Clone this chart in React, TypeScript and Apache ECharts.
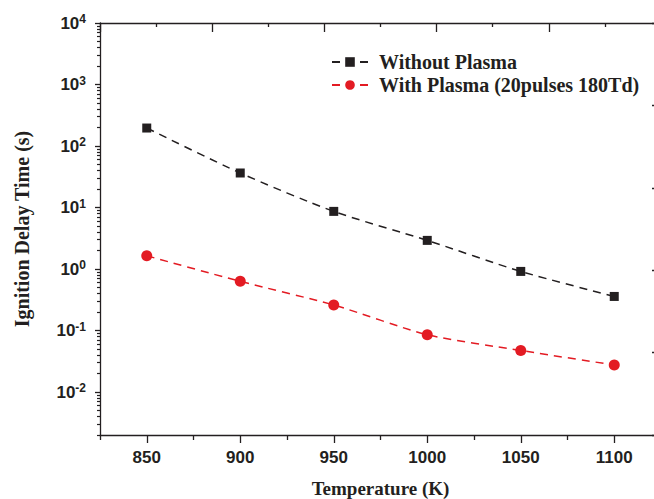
import React, { useEffect, useRef } from 'react';
import * as echarts from 'echarts';

const temperatures = [850, 900, 950, 1000, 1050, 1100];
const withoutPlasma = [196, 36.4, 8.65, 2.92, 0.914, 0.358];
const withPlasma = [1.64, 0.63, 0.26, 0.0855, 0.0474, 0.0275];
const seriesNames = ['Without Plasma', 'With Plasma (20pulses 180Td)'];
const xTickLabels = [850, 900, 950, 1000, 1050, 1100];
const xMinorTicks = [825, 875, 925, 975, 1025, 1075, 1125];
const yMajorTicks = [0.01, 0.1, 1, 10, 100, 1000, 10000];
const yMinorMantissas = [2, 3, 4, 5, 6, 7, 8, 9];
const yMinorDecades = [0.001, 0.01, 0.1, 1, 10, 100, 1000];

const INK = '#231f20';
const RED = '#e31b23';

export default function App() {
  const ref = useRef<HTMLDivElement>(null);
  useEffect(() => {
    if (!ref.current) return;
    const chart = echarts.init(ref.current, undefined, { renderer: 'svg' });
    const yMinorTicks: number[] = [];
    yMinorDecades.forEach((d) =>
      yMinorMantissas.forEach((m) => {
        const v = parseFloat((m * d).toPrecision(3));
        if (v >= 0.002 && v <= 10000) yMinorTicks.push(v);
      })
    );
    const axisLine = { show: true, lineStyle: { color: INK, width: 1.3 } };
    const hiddenLine = { show: false };
    const option: any = {
      animation: false,
      backgroundColor: '#ffffff',
      grid: { left: 100, top: 23, right: -7, bottom: 64, containLabel: false, outerBoundsMode: 'none' },
      legend: {
        orient: 'vertical',
        left: 326,
        top: 47,
        itemWidth: 36,
        itemHeight: 12,
        itemGap: 3,
        data: seriesNames,
        textStyle: {
          fontFamily: 'Liberation Serif',
          fontWeight: 'bold',
          fontSize: 20,
          color: INK,
          padding: [0, 0, 0, 6],
        },
      },
      xAxis: [
        {
          type: 'value',
          position: 'bottom',
          min: 825,
          max: 1125,
          axisLine,
          splitLine: { show: false },
          axisTick: { show: true, customValues: xTickLabels, length: 8, lineStyle: { color: INK, width: 1.3 } },
          axisLabel: {
            customValues: xTickLabels,
            margin: 14,
            formatter: (v: number) => String(v),
            fontFamily: 'Liberation Sans',
            fontWeight: 'bold',
            fontSize: 17,
            color: INK,
          },
          name: 'Temperature (K)',
          nameLocation: 'middle',
          nameGap: 44,
          nameTextStyle: { fontFamily: 'Liberation Serif', fontWeight: 'bold', fontSize: 19, color: INK },
        },
        {
          type: 'value',
          position: 'bottom',
          min: 825,
          max: 1125,
          axisLine: hiddenLine,
          splitLine: { show: false },
          axisTick: { show: true, customValues: xMinorTicks, length: 5, lineStyle: { color: INK, width: 1.3 } },
          axisLabel: { show: false },
        },
        {
          type: 'value',
          position: 'top',
          min: 0,
          max: 10,
          interval: 2,
          axisLine,
          splitLine: { show: false },
          axisTick: { show: true, inside: true, length: 9, lineStyle: { color: INK, width: 1.3 } },
          minorTick: { show: true, splitNumber: 2, length: 4, lineStyle: { color: INK, width: 1.3 } },
          axisLabel: { show: false },
        },
      ],
      yAxis: [
        {
          type: 'log',
          logBase: 10,
          position: 'left',
          min: 0.002,
          max: 10000,
          axisLine,
          splitLine: { show: false },
          axisTick: { show: true, customValues: yMajorTicks, length: 5, lineStyle: { color: INK, width: 1.3 } },
          axisLabel: {
            customValues: yMajorTicks,
            margin: 14,
            formatter: (v: number) => `{b|10}{s|${Math.round(Math.log10(v))}}`,
            rich: {
              b: { fontFamily: 'Liberation Sans', fontWeight: 'bold', fontSize: 17, color: INK },
              s: {
                fontFamily: 'Liberation Sans',
                fontWeight: 'bold',
                fontSize: 12,
                color: INK,
                padding: [0, 0, 8, 0],
              },
            },
          },
          name: 'Ignition Delay Time (s)',
          nameLocation: 'middle',
          nameGap: 68,
          nameTextStyle: { fontFamily: 'Liberation Serif', fontWeight: 'bold', fontSize: 20, color: INK },
        },
        {
          type: 'log',
          logBase: 10,
          position: 'left',
          min: 0.002,
          max: 10000,
          axisLine: hiddenLine,
          splitLine: { show: false },
          axisTick: { show: true, customValues: yMinorTicks, length: 3, lineStyle: { color: INK, width: 1.2 } },
          axisLabel: { show: false },
        },
        {
          type: 'value',
          position: 'right',
          min: 0,
          max: 5,
          interval: 1,
          axisLine,
          splitLine: { show: false },
          axisTick: { show: true, inside: true, length: 9, lineStyle: { color: INK, width: 1.3 } },
          axisLabel: { show: false },
        },
      ],
      series: [
        {
          name: seriesNames[0],
          type: 'line',
          xAxisIndex: 0,
          yAxisIndex: 0,
          data: temperatures.map((t, i) => [t, withoutPlasma[i]]),
          smooth: 0.25,
          symbol: 'rect',
          symbolSize: 9,
          itemStyle: { color: INK },
          lineStyle: { color: INK, width: 1.5, type: [8, 6] },
        },
        {
          name: seriesNames[1],
          type: 'line',
          xAxisIndex: 0,
          yAxisIndex: 0,
          data: temperatures.map((t, i) => [t, withPlasma[i]]),
          smooth: 0.25,
          symbol: 'circle',
          symbolSize: 11,
          itemStyle: { color: RED },
          lineStyle: { color: RED, width: 1.5, type: [8, 6] },
        },
      ],
    };
    chart.setOption(option);
    return () => chart.dispose();
  }, []);
  return (
    <div
      ref={ref}
      style={{ position: 'fixed', left: 0, top: 0, width: 654, height: 499, background: '#fff' }}
    />
  );
}
